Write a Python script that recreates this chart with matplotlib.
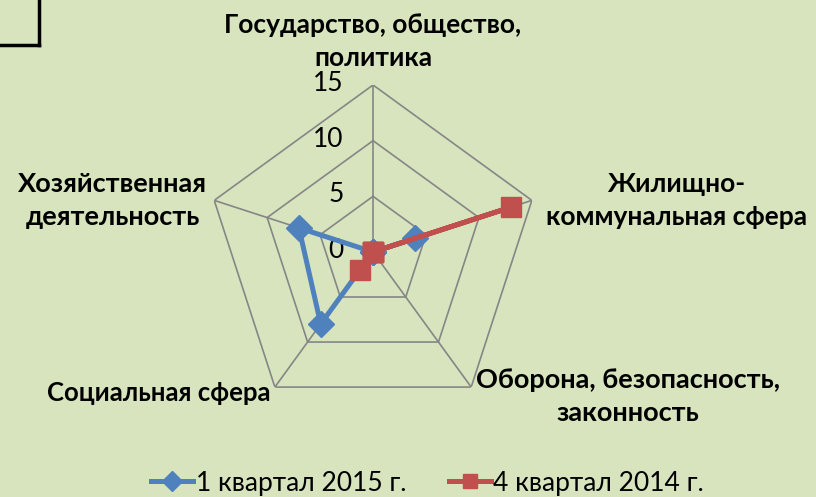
import matplotlib
matplotlib.use('Agg')
import matplotlib.pyplot as plt
from matplotlib.lines import Line2D
import numpy as np

plt.rcParams['font.family'] = ['Lato', 'DejaVu Sans']

# --- Данные ---
categories = ['Государство, общество,\nполитика',
              'Жилищно-\nкоммунальная сфера',
              'Оборона, безопасность,\nзаконность',
              'Социальная сфера',
              'Хозяйственная\nдеятельность']
q1_2015 = [0, 4, 0, 8, 7]
q4_2014 = [0, 13, 0, 2, 0]
series_names = ['1 квартал 2015 г.', '4 квартал 2014 г.']
rings = [5, 10, 15]
ring_labels = [0, 5, 10, 15]

bg = '#D7E4BD'
grid_col = '#868686'
blue = '#4F81BD'
red = '#C0504D'

n = len(categories)
angles = np.linspace(0, 2 * np.pi, n, endpoint=False)
ang_closed = np.append(angles, angles[0])

fig = plt.figure(figsize=(8.16, 4.97), dpi=100, facecolor=bg)
ax = fig.add_axes([0.2525, 0.157, 0.4093, 0.672], projection='polar')
ax.set_theta_offset(np.pi / 2)
ax.set_theta_direction(-1)
ax.set_ylim(0, 15)
ax.grid(False)
ax.set_xticks([])
ax.set_yticks([])
ax.spines['polar'].set_visible(False)
ax.patch.set_visible(False)

# сетка-пятиугольник и лучи
for r in rings:
    ax.plot(ang_closed, [r] * (n + 1), color=grid_col, lw=1.2, zorder=1)
for a in angles:
    ax.plot([a, a], [0, 15], color=grid_col, lw=1.2, zorder=1)

for v in ring_labels:
    ax.annotate(str(v), xy=(0, v), xytext=(-21, 1), textcoords='offset points',
                ha='right', va='center', fontsize=19, color='black')

# ряды данных
ax.plot(ang_closed, q1_2015 + q1_2015[:1], color=blue, lw=3.6, marker='D',
        markersize=13, label=series_names[0], zorder=3, clip_on=False)
ax.plot(ang_closed, q4_2014 + q4_2014[:1], color=red, lw=3.6, marker='s',
        markersize=14, label=series_names[1], zorder=4, clip_on=False)

# подписи категорий
offsets = [(0, 31), (104, 0), (113, -7), (-3, -4), (-73, 0)]
aligns = ['center', 'center', 'center', 'right', 'center']
sizes = [19, 19, 19.5, 18.5, 19.5]
for a, lab, off, ha, fs in zip(angles, categories, offsets, aligns, sizes):
    ax.annotate(lab, xy=(a, 15), xytext=off, textcoords='offset points',
                ha=ha, va='center', fontsize=fs, fontweight='bold',
                linespacing=1.45, annotation_clip=False)

fig.legend(loc='center', bbox_to_anchor=(0.524, 0.028), ncol=2, frameon=False,
           fontsize=19, handlelength=1.6, columnspacing=1.6, handletextpad=0.1,
           markerscale=0.75)

# рамка в левом верхнем углу
fig.add_artist(Line2D([38.5 / 816, 38.5 / 816], [1, 1 - 45 / 497],
                      transform=fig.transFigure, color='black', lw=2.5))
fig.add_artist(Line2D([0, 38.5 / 816], [1 - 45 / 497, 1 - 45 / 497],
                      transform=fig.transFigure, color='black', lw=2.5))

fig.savefig('out.png', dpi=100, facecolor=bg)
